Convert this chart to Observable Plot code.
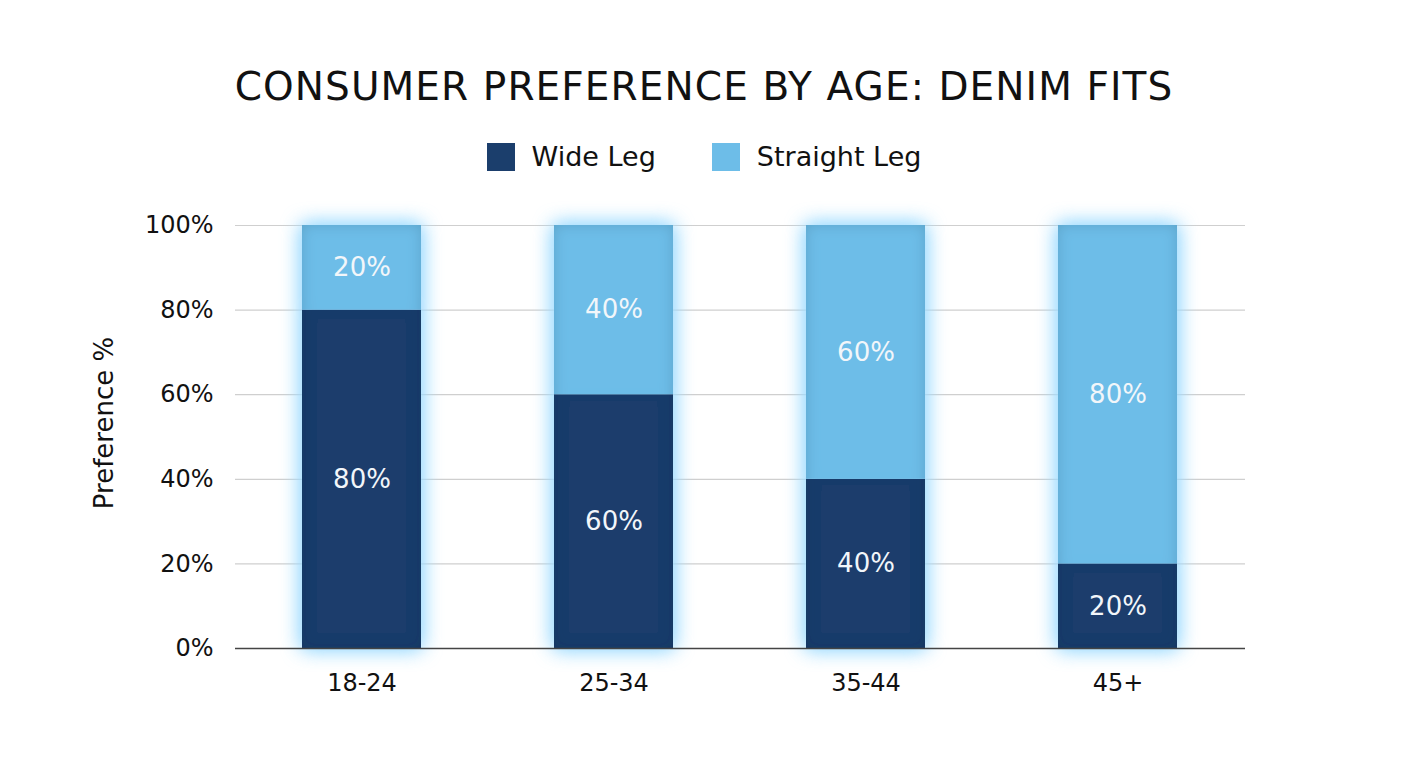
<!DOCTYPE html>
<html>
<head>
<meta charset="utf-8">
<script src="https://cdn.jsdelivr.net/npm/d3@7"></script>
<script src="https://cdn.jsdelivr.net/npm/@observablehq/plot@0.6"></script>
<style>
  html, body { margin: 0; padding: 0; background: #fff; }
  body { width: 1408px; height: 768px; overflow: hidden; font-family: "DejaVu Sans", sans-serif; }
  #header { position: relative; height: 200px; }
  #title { position: absolute; top: 63px; left: 0; width: 1408px; text-align: center; font-size: 39px; line-height: 48px; color: #111; letter-spacing: 1.1px; font-weight: 400; }
  #legend { position: absolute; top: 140px; left: 0; width: 1408px; display: flex; justify-content: center; gap: 56px; font-size: 27px; line-height: 34px; color: #111; }
  .item { display: flex; align-items: center; gap: 17px; }
  .sw { width: 28px; height: 28px; display: inline-block; }
</style>
</head>
<body>
<div id="header">
  <div id="title">CONSUMER PREFERENCE BY AGE: DENIM FITS</div>
  <div id="legend"></div>
</div>
<div id="chart"></div>
<script>
const ageGroups = ["18-24", "25-34", "35-44", "45+"];
const seriesNames = ["Wide Leg", "Straight Leg"];
const wideLeg = [80, 60, 40, 20];
const straightLeg = [20, 40, 60, 80];
const yTicks = [0, 20, 40, 60, 80, 100];
const colors = ["#1b3e6c", "#6dbde8"];
const yLabel = "Preference %";

const data = [];
ageGroups.forEach((a, i) => {
  data.push({age: a, fit: seriesNames[0], value: wideLeg[i]});
  data.push({age: a, fit: seriesNames[1], value: straightLeg[i]});
});

const legend = document.getElementById("legend");
seriesNames.forEach((s, i) => {
  const it = document.createElement("div");
  it.className = "item";
  it.innerHTML = `<span class="sw" style="background:${colors[i]}"></span><span>${s}</span>`;
  legend.appendChild(it);
});

const chart = Plot.plot({
  width: 1408,
  height: 568,
  marginTop: 25,
  marginBottom: 120,
  marginLeft: 235,
  marginRight: 163,
  style: {fontFamily: "DejaVu Sans, sans-serif", fontSize: "24px", color: "#111", background: "#fff"},
  x: {domain: ageGroups, paddingInner: 0.526, paddingOuter: 0.26, label: null, tickSize: 0, tickPadding: 25},
  y: {domain: [0, 100], ticks: yTicks, tickFormat: d => d + "%", tickSize: 0, tickPadding: 22, label: null},
  color: {domain: seriesNames, range: colors},
  marks: [
    Plot.ruleY(yTicks.filter(d => d > 0), {stroke: "#cfcfcf", strokeWidth: 1.2}),
    Plot.barY(data, Plot.stackY({x: "age", y: "value", fill: "fit", order: seriesNames})),
    Plot.text(data, Plot.stackY({x: "age", y: "value", z: "fit", order: seriesNames, text: d => d.value + "%", fill: "#f2f6fa", fontSize: 26})),
    Plot.ruleY([0], {stroke: "#444", strokeWidth: 1.5})
  ]
});
document.getElementById("chart").appendChild(chart);

const svg = d3.select(chart);
const defs = svg.insert("defs", ":first-child");
const f = defs.append("filter").attr("id", "glow").attr("x", "-30%").attr("y", "-30%").attr("width", "160%").attr("height", "160%");
f.append("feFlood").attr("flood-color", "#9fdcff").attr("flood-opacity", 1).attr("result", "c");
f.append("feComposite").attr("in", "c").attr("in2", "SourceAlpha").attr("operator", "in").attr("result", "cs");
f.append("feGaussianBlur").attr("in", "cs").attr("stdDeviation", 10).attr("result", "b");
f.append("feGaussianBlur").attr("in", "SourceAlpha").attr("stdDeviation", 7).attr("result", "ib");
f.append("feComposite").attr("in", "SourceAlpha").attr("in2", "ib").attr("operator", "arithmetic").attr("k2", 1).attr("k3", -1).attr("result", "edge");
f.append("feFlood").attr("flood-color", "#0b2345").attr("flood-opacity", 0.3).attr("result", "dc");
f.append("feComposite").attr("in", "dc").attr("in2", "edge").attr("operator", "in").attr("result", "inner");
const m = f.append("feMerge");
m.append("feMergeNode").attr("in", "b");
m.append("feMergeNode").attr("in", "b");
m.append("feMergeNode").attr("in", "SourceGraphic");
m.append("feMergeNode").attr("in", "inner");
svg.selectAll('g[aria-label="bar"]').attr("filter", "url(#glow)");

svg.append("text")
  .attr("transform", "translate(113,223) rotate(-90)")
  .attr("text-anchor", "middle")
  .attr("font-size", 26)
  .attr("fill", "#111")
  .text(yLabel);
</script>
</body>
</html>
